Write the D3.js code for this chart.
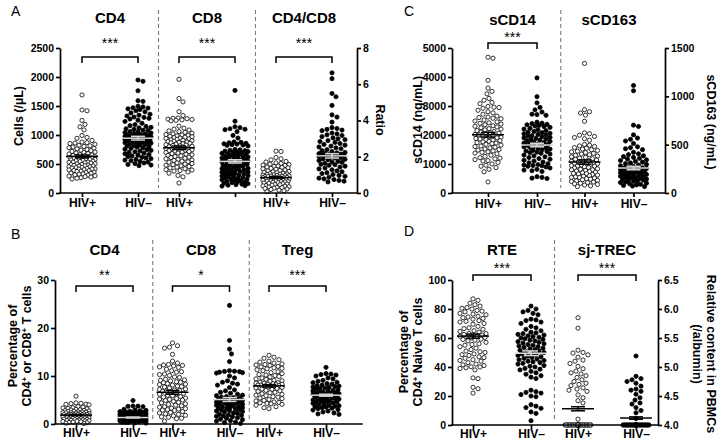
<!DOCTYPE html>
<html><head><meta charset="utf-8">
<script src="https://cdn.jsdelivr.net/npm/d3@7"></script>
<style>body{margin:0;background:#fff}svg{display:block;font-family:"Liberation Sans",Arial,Helvetica,sans-serif}</style>
</head><body>
<svg id="chart" width="720" height="442"></svg>
<script>
// ---------------- DATA ----------------
const groupNames = ["HIV+", "HIV–"];

// Panel A
const aTitles = ["CD4", "CD8", "CD4/CD8"];
const aStars = ["***", "***", "***"];
const aCatLabels = ["HIV+", "HIV–", "HIV+", "", "HIV+", "HIV–"];
const aLeftTicks = [0, 500, 1000, 1500, 2000, 2500];
const aRightTicks = [0, 2, 4, 6, 8];
const aCD4Pos = [1690,1432,1418,1252,1183,1141,1088,992,957,943,906,879,868,861,853,840,823,814,802,792,781,771,761,749,738,729,716,707,698,689,680,673,662,656,645,641,632,625,616,612,602,598,589,584,576,570,561,557,548,542,533,528,520,515,506,502,493,489,480,476,467,463,454,450,441,437,429,424,415,411,402,397,389,384,376,370,360,354,344,339,330,324,314,308,297,292,282,275,264,254,241,611,577,532,469,413];
const aCD4Neg = [1948,1926,1763,1591,1579,1496,1484,1470,1464,1451,1439,1418,1399,1380,1358,1341,1328,1310,1303,1287,1275,1255,1233,1202,1179,1161,1148,1132,1122,1108,1098,1083,1074,1060,1053,1042,1034,1023,1017,1006,1000,990,984,975,969,960,954,945,940,930,924,914,908,898,892,882,876,866,860,850,844,833,827,817,810,798,790,778,770,756,747,734,724,710,700,686,677,663,653,639,629,615,605,591,581,567,557,543,533,518,507,492,482,471,962,931,901,869,1003];
const aCD8Pos = [1960,1628,1571,1402,1336,1293,1287,1281,1274,1268,1261,1253,1244,1152,1118,1101,1086,1072,1058,1046,1031,1019,1008,1001,993,984,977,969,962,954,947,941,933,926,917,909,903,894,887,879,873,864,857,849,843,834,827,819,812,806,797,791,782,774,767,759,753,744,737,729,722,714,706,698,689,679,668,659,649,641,629,619,611,599,589,579,568,561,549,538,531,519,508,499,489,478,468,457,446,433,418,402,396,386,377,362,341,302,279,172];
const aCD8Neg = [1768,1238,1142,1127,1108,1099,1091,1058,992,948,881,873,866,857,849,843,834,827,821,811,752,746,737,731,723,714,707,699,693,684,677,668,661,651,643,637,627,619,613,603,597,589,579,571,563,557,547,539,531,523,517,507,499,493,483,477,467,461,451,443,437,427,419,411,403,397,387,381,371,363,357,347,339,331,323,317,307,299,291,283,277,267,259,251,243,237,227,219,211,203,197,187,179,169,161,152,143,135,126,119];
const aRatioPos = [2.31,2.29,1.96,1.89,1.83,1.74,1.71,1.66,1.63,1.59,1.57,1.54,1.52,1.49,1.47,1.43,1.41,1.39,1.36,1.33,1.31,1.27,1.24,1.22,1.19,1.17,1.14,1.12,1.09,1.07,1.05,1.03,1.01,0.99,0.97,0.95,0.93,0.92,0.9,0.88,0.87,0.85,0.83,0.82,0.8,0.79,0.77,0.75,0.73,0.72,0.7,0.68,0.67,0.65,0.63,0.61,0.59,0.57,0.55,0.53,0.51,0.49,0.47,0.45,0.43,0.41,0.39,0.37,0.35,0.33,0.31,0.29,0.27,0.25,0.22,0.19,0.16,0.12,0.07,0.91,0.86,0.78,0.74,0.69,0.96,1.02,0.62];
const aRatioNeg = [6.63,6.31,5.49,5.31,4.83,4.31,4.19,3.91,3.61,3.56,3.51,3.47,3.44,3.31,3.26,3.21,3.17,3.11,3.04,2.99,2.94,2.89,2.84,2.79,2.73,2.68,2.64,2.59,2.54,2.49,2.44,2.39,2.34,2.29,2.24,2.21,2.17,2.14,2.11,2.09,2.06,2.03,2.01,1.97,1.93,1.88,1.84,1.79,1.74,1.69,1.64,1.58,1.53,1.48,1.43,1.38,1.33,1.28,1.22,1.17,1.12,1.07,1.02,0.97,0.92,0.87,0.82,0.78,0.74,0.69,0.65,0.61,2.19,2.12,2.04,1.95,1.86,1.71,1.56];
const aMeans = [630, 945, 780, 545, 0.85, 2.05];
const aSems = [25, 32, 30, 28, 0.05, 0.12];

// Panel B
const bTitles = ["CD4", "CD8", "Treg"];
const bStars = ["**", "*", "***"];
const bCatLabels = ["HIV+", "HIV–", "HIV+", "HIV–", "HIV+", "HIV–"];
const bLeftTicks = [0, 10, 20, 30];
const bCD4Pos = [5.8,4.4,4.3,4.25,4.15,4.1,4.0,3.62,3.5,3.41,3.33,3.24,3.15,3.07,2.96,2.9,2.83,2.77,2.71,2.66,2.61,2.54,2.49,2.43,2.38,2.33,2.27,2.22,2.18,2.12,2.07,2.03,1.98,1.94,1.89,1.85,1.81,1.76,1.72,1.68,1.63,1.59,1.55,1.51,1.47,1.43,1.38,1.34,1.3,1.26,1.21,1.17,1.13,1.09,1.04,1.0,0.96,0.91,0.87,0.82,0.78,0.73,0.68,0.63,0.58,0.52,0.46,0.4,0.33,0.26,0.18,0.1,1.9,1.7,1.5,2.3,2.0];
const bCD4Neg = [4.9,3.75,3.72,3.68,3.6,3.05,2.93,2.82,2.74,2.66,2.58,2.51,2.44,2.37,2.3,2.24,2.17,2.11,2.05,1.98,1.92,1.86,1.8,1.75,1.69,1.64,1.58,1.53,1.48,1.43,1.38,1.33,1.29,1.24,1.2,1.15,1.11,1.07,1.03,0.99,0.95,0.91,0.87,0.83,0.79,0.75,0.71,0.67,0.63,0.59,0.55,0.51,0.46,0.41,0.36,0.31,0.25,0.19,1.4,1.25,1.1,1.0,1.5,0.9,0.7,1.2];
const bCD8Pos = [16.9,16.3,16.0,15.8,14.5,13.1,12.7,12.4,12.3,12.2,12.1,11.9,11.8,11.4,11.1,10.9,10.8,10.4,10.3,10.1,9.8,9.7,9.3,9.2,9.1,8.8,8.7,8.6,8.4,8.3,8.1,7.9,7.8,7.7,7.5,7.3,7.2,7.1,6.9,6.8,6.7,6.4,6.3,6.2,6.0,5.9,5.7,5.6,5.4,5.3,5.1,5.0,4.9,4.7,4.5,4.4,4.2,4.1,3.9,3.8,3.6,3.5,3.3,3.2,3.0,2.9,2.8,2.6,2.4,2.3,2.1,2.0,1.8,1.7,1.5,1.4,1.2,1.1,0.6,9.0,8.2,7.0,5.2,3.1];
const bCD8Neg = [24.7,17.4,15.6,14.6,13.0,11.1,11.0,10.95,10.9,10.8,10.7,10.6,10.0,9.6,9.0,8.7,8.5,8.3,8.1,7.6,7.1,6.9,6.6,6.4,6.2,6.0,5.9,5.7,5.6,5.5,5.3,5.2,5.1,5.0,4.9,4.8,4.7,4.6,4.5,4.4,4.3,4.2,4.1,4.0,3.9,3.8,3.7,3.5,3.4,3.3,3.1,3.0,2.9,2.7,2.6,2.5,2.3,2.2,2.0,1.9,1.8,1.6,1.5,1.3,1.2,1.0,0.9,0.7,0.6,0.4,0.3,0.1,4.4,3.6,2.8,5.4,4.8,3.2,1.7];
const bTregPos = [14.3,13.9,13.7,13.4,13.1,12.9,12.7,12.5,12.4,12.3,12.2,12.0,11.9,11.7,11.5,11.3,11.1,10.9,10.7,10.5,10.3,10.1,9.9,9.8,9.6,9.4,9.3,9.1,9.0,8.9,8.7,8.6,8.5,8.4,8.3,8.2,8.1,8.0,7.9,7.8,7.7,7.6,7.4,7.3,7.2,7.0,6.9,6.8,6.6,6.5,6.3,6.2,6.0,5.9,5.7,5.6,5.4,5.3,5.1,4.9,4.8,4.6,4.5,4.4,4.3,4.2,4.1,3.9,3.6,3.4,3.2,8.3,8.1,7.9,8.5,7.5,10.2,11.6];
const bTregNeg = [11.8,10.5,10.4,10.3,10.2,10.0,9.6,9.4,9.1,8.9,8.7,8.6,8.4,8.3,8.1,8.0,7.9,7.8,7.6,7.5,7.4,7.3,7.1,7.0,6.9,6.8,6.7,6.6,6.5,6.4,6.3,6.2,6.1,6.0,5.9,5.8,5.7,5.6,5.5,5.4,5.3,5.2,5.1,5.0,4.9,4.8,4.7,4.6,4.5,4.4,4.3,4.1,4.0,3.8,3.7,3.6,3.5,3.4,3.3,3.2,3.0,2.9,2.7,2.5,2.3,2.1,2.0,6.2,5.8,6.4,5.3,4.6,7.7,3.9];
const bMeans = [1.85, 1.35, 6.6, 5.1, 7.95, 6.0];
const bSems = [0.1, 0.09, 0.4, 0.4, 0.25, 0.2];

// Panel C
const cTitles = ["sCD14", "sCD163"];
const cStars = ["***", ""];
const cCatLabels = ["HIV+", "HIV–", "HIV+", "HIV–"];
const cLeftTicks = [0, 1000, 2000, 3000, 4000, 5000];
const cRightTicks = [0, 500, 1000, 1500];
const cCD14Pos = [4682,4648,3884,3617,3503,3421,3262,3198,3123,3081,2983,2958,2947,2921,2853,2801,2764,2718,2652,2619,2603,2578,2561,2517,2483,2452,2419,2402,2377,2353,2318,2302,2277,2253,2219,2203,2178,2152,2118,2102,2079,2061,2038,2021,2002,1978,1963,1938,1921,1902,1879,1862,1838,1821,1803,1778,1762,1738,1721,1703,1679,1651,1619,1602,1579,1553,1518,1503,1478,1452,1419,1402,1377,1352,1303,1262,1218,1203,1178,1152,1118,1102,1053,1002,958,923,878,818,732,381];
const cCD14Neg = [3968,3322,3108,2951,2868,2792,2718,2703,2679,2442,2408,2391,2369,2352,2328,2311,2288,2262,2229,2203,2178,2151,2122,2098,2081,2058,2042,2019,2003,1978,1962,1939,1921,1898,1882,1859,1841,1822,1799,1781,1758,1742,1719,1703,1688,1671,1648,1632,1609,1591,1568,1552,1529,1512,1488,1471,1448,1432,1409,1391,1368,1342,1309,1281,1248,1222,1188,1162,1128,1102,1068,1042,1008,982,962,948,938,921,898,862,818,792,768,741,562,538,512,498];
const cCD163Pos = [1340,862,841,828,806,742,622,614,598,585,574,561,546,502,494,487,481,470,463,455,448,440,432,425,418,410,403,396,390,382,375,369,361,355,348,341,335,328,322,315,309,302,296,290,283,277,270,264,258,251,245,239,233,227,221,215,209,203,197,191,185,179,173,167,161,155,149,143,137,131,125,119,113,107,101,95,89,82,74,66,320,300,280,240,200,160];
const cCD163Neg = [1112,1058,702,688,601,568,555,538,512,478,469,458,448,421,405,396,385,376,368,359,351,343,335,327,319,311,303,296,289,282,275,268,261,254,247,240,234,228,222,216,210,204,198,192,186,180,174,168,162,156,150,144,138,132,126,120,114,108,102,96,90,84,78,72,66,260,245,230,215,200,185,170,155,140];
const cMeans = [2010, 1655, 320, 258];
const cSems = [80, 60, 22, 18];

// Panel D
const dTitles = ["RTE", "sj-TREC"];
const dStars = ["***", "***"];
const dCatLabels = ["HIV+", "HIV–", "HIV+", "HIV–"];
const dLeftTicks = [0, 20, 40, 60, 80, 100];
const dRightTicks = [4.0, 4.5, 5.0, 5.5, 6.0, 6.5];
const dRTEPos = [87,86,84,83,82,81,80.5,80,79,78.5,78,77,76.5,76,75,74.5,74,73.5,73,72,71.5,71,70,69.5,68,67,66.5,66,65,64.5,64,63,62.5,62,61,60.5,60,59,58.5,58,57,56,55.5,55,54,53,52,51,50.5,50,49,48.5,48,47,46.5,46,45,44.5,44,43,42,41.5,41,40,40.2,39.5,39,38,32.5,32,26,25,22,61.2,62.3,60.4,63.1,59.2];
const dRTENeg = [82,80,79,78,77,76,73,72.5,72,71,70,68,67,66,65,64,63.5,63,62.5,62,61.5,61,60.5,60,59.5,59,58.5,58,57.5,57,56.5,56,55.5,55,54.5,54,53.5,53,52.5,52,51.5,51,50.5,50,49.5,49,48.5,48,47.5,47,46.5,46,45.5,45,44.5,44,43.5,43,42.5,42,41,40.5,40,39,38.5,38,37,36,35,34,33,32,24,23,22.5,22,21,20,19.5,14,13,12,11.5,9,8,3];
const dTRECPos = [5.85,5.67,5.29,5.25,5.24,5.21,5.17,5.12,5.1,5.06,5.01,4.97,4.93,4.9,4.88,4.85,4.82,4.78,4.75,4.72,4.7,4.68,4.64,4.62,4.6,4.58,4.52,4.47,4.42,4.38,4.1,4,4,4,4,4,4,4,4,4,4,4,4,4,4,4,4,4,4,4,4,4,4,4,4,4,4,4,4,4,4,4,4,4,4];
const dTRECNeg = [5.19,4.84,4.8,4.78,4.75,4.72,4.67,4.62,4.6,4.58,4.53,4.47,4.43,4.38,4.36,4.3,4.25,4.21,4.11,4,4,4,4,4,4,4,4,4,4,4,4,4,4,4,4,4,4,4,4,4,4,4,4,4,4,4,4,4,4,4,4,4,4,4,4,4,4,4,4,4,4,4,4,4,4,4,4];
const dMeans = [61.3, 49.5, 4.28, 4.12];
const dSems = [1.4, 1.6, 0.035, 0.02];

// ---------------- DRAWING ----------------
const svg = d3.select("#chart");
const FONT = "'Liberation Sans',Arial,sans-serif";
const R = 2.1, DIAM = 5.0, MAXHALF = 13;

function swarm(values, yScale, cx) {
  const pts = [];
  const items = values.map(v => ({v, y: yScale(v)})).sort((a, b) => a.y - b.y);
  for (const p of items) {
    let best = 0, bestScore = -1;
    for (let k = 0; k <= MAXHALF * 2; k++) {
      const off = k === 0 ? 0 : (k % 2 ? Math.ceil(k / 2) : -k / 2);
      let minD = Infinity;
      for (const q of pts) {
        const dy = p.y - q.y;
        if (Math.abs(dy) >= DIAM) continue;
        const dd = Math.hypot(cx + off - q.x, dy);
        if (dd < minD) minD = dd;
      }
      if (minD >= DIAM) { best = off; bestScore = Infinity; break; }
      if (minD > bestScore) { bestScore = minD; best = off; }
    }
    pts.push({x: cx + best, y: p.y});
  }
  return pts;
}

// rotated multi-line label; each line is its own <text>
function rotText(g, x, y, angle, lines, size, lineGap) {
  lines.forEach((ln, i) => {
    const t = g.append("text")
      .attr("transform", `translate(${x},${y}) rotate(${angle})`)
      .attr("y", i * lineGap)
      .attr("text-anchor", "middle").attr("font-weight", "bold").attr("font-size", size)
      .attr("font-family", FONT).attr("fill", "#000");
    ln.forEach(seg => {
      if (seg.sup) t.append("tspan").attr("baseline-shift", "super").attr("font-size", size * 0.62).text(seg.t);
      else t.append("tspan").text(seg.t);
    });
  });
}

function drawPanel(P) {
  const g = svg.append("g");
  const yL = d3.scaleLinear().domain(P.leftDomain).range([P.bottom, P.top]);
  const yR = P.rightDomain ? d3.scaleLinear().domain(P.rightDomain).range([P.bottom, P.top]) : null;
  const outer = d3.scalePoint().domain(P.titles).range(P.centerRange);
  const inner = d3.scalePoint().domain(groupNames).range([-P.off, P.off]);
  const keys = [], xs = [];
  P.titles.forEach(t => groupNames.forEach(n => { keys.push(t + "|" + n); xs.push(outer(t) + inner(n)); }));
  const xCat = d3.scaleOrdinal().domain(keys).range(xs);

  // panel letter
  g.append("text").attr("x", P.letter[1]).attr("y", P.letter[2]).attr("font-size", 14)
    .attr("font-family", FONT).text(P.letter[0]);

  // dashed separators
  const cs = P.titles.map(t => outer(t));
  for (let i = 0; i < cs.length - 1; i++) {
    const sx = (cs[i] + cs[i + 1]) / 2;
    g.append("line").attr("x1", sx).attr("x2", sx).attr("y1", P.sepY[0]).attr("y2", P.sepY[1])
      .attr("stroke", "#7a7a7a").attr("stroke-width", 1.1).attr("stroke-dasharray", "4,3");
  }

  // titles, stars, brackets
  P.titles.forEach((t, i) => {
    g.append("text").attr("x", outer(t)).attr("y", P.titleY).attr("text-anchor", "middle")
      .attr("font-family", FONT).attr("font-weight", "bold").attr("font-size", 15).text(t);
    if (P.stars[i]) {
      g.append("text").attr("x", outer(t)).attr("y", P.starsY).attr("text-anchor", "middle")
        .attr("font-family", FONT).attr("font-size", 14).attr("fill", "#000")
        .text(P.stars[i]);
      const x1 = xCat(t + "|" + groupNames[0]), x2 = xCat(t + "|" + groupNames[1]);
      g.append("path").attr("d", `M${x1},${P.bracketY + 6}V${P.bracketY}H${x2}V${P.bracketY + 6}`)
        .attr("fill", "none").attr("stroke", "#000").attr("stroke-width", 1.5);
    }
  });

  // points
  P.groups.forEach((gr, i) => {
    const ys = gr.axis === "R" ? yR : yL;
    const pts = swarm(gr.vals, ys, xs[i]);
    g.append("g").selectAll("circle").data(pts).join("circle")
      .attr("cx", d => d.x).attr("cy", d => d.y).attr("r", R)
      .attr("fill", gr.filled ? "#000" : "#fff").attr("stroke", "#000").attr("stroke-width", 0.8);
  });
  // mean ± SEM
  P.groups.forEach((gr, i) => {
    const ys = gr.axis === "R" ? yR : yL;
    const cx = xs[i];
    const my = ys(gr.mean), lo = ys(gr.mean - gr.sem), hi = ys(gr.mean + gr.sem);
    const mg = g.append("g").attr("stroke", gr.meanColor).attr("stroke-width", 1.5).attr("fill", "none");
    mg.append("line").attr("x1", cx - 16).attr("x2", cx + 16).attr("y1", my).attr("y2", my);
    mg.append("line").attr("x1", cx).attr("x2", cx).attr("y1", lo).attr("y2", hi);
    mg.append("line").attr("x1", cx - 7).attr("x2", cx + 7).attr("y1", lo).attr("y2", lo);
    mg.append("line").attr("x1", cx - 7).attr("x2", cx + 7).attr("y1", hi).attr("y2", hi);
  });

  // axes
  const styleAxis = sel => {
    sel.selectAll("path,line").attr("stroke", "#000").attr("stroke-width", 1.7);
    sel.selectAll("text").attr("font-weight", "bold").attr("font-size", 10.5).attr("fill", "#000")
      .attr("font-family", FONT);
  };
  g.append("g").attr("transform", `translate(${P.left},0)`)
    .call(d3.axisLeft(yL).tickValues(P.leftTicks).tickSize(4).tickSizeOuter(0).tickPadding(2).tickFormat(d3.format("d")))
    .call(styleAxis);
  if (yR) {
    g.append("g").attr("transform", `translate(${P.right},0)`)
      .call(d3.axisRight(yR).tickValues(P.rightTicks).tickSize(4).tickSizeOuter(0).tickPadding(2).tickFormat(P.rightFmt))
      .call(styleAxis);
  }
  const xa = g.append("g").attr("transform", `translate(0,${P.bottom})`)
    .call(d3.axisBottom(xCat).tickSize(4).tickPadding(3).tickFormat((d, i) => P.catLabels[i]))
    .call(styleAxis);
  xa.select(".domain").remove();
  xa.selectAll("text").attr("font-size", 12).attr("dy", null).attr("y", P.catLabelY - P.bottom);
  g.append("line").attr("x1", P.left - 0.85).attr("x2", P.right + 0.85).attr("y1", P.bottom).attr("y2", P.bottom)
    .attr("stroke", "#000").attr("stroke-width", 1.7);

  // axis titles
  P.axisTitles.forEach(a => rotText(g, a.x, a.y, a.angle, a.lines, a.size || 12.5, 14));
}

const lightMean = "#d8d8d8";
function grp(vals, axis, filled, mean, sem, meanColor) {
  return {vals, axis, filled, mean, sem, meanColor: meanColor || (filled ? lightMean : "#000")};
}

drawPanel({
  letter: ["A", 11, 16], titles: aTitles, stars: aStars, catLabels: aCatLabels,
  left: 60, right: 357, top: 48, bottom: 193, centerRange: [110, 304], off: 28,
  leftDomain: [0, 2500], rightDomain: [0, 8], leftTicks: aLeftTicks, rightTicks: aRightTicks, rightFmt: d3.format("d"),
  sepY: [10, 188], titleY: 23, starsY: 48, bracketY: 57, catLabelY: 207,
  groups: [
    grp(aCD4Pos, "L", false, aMeans[0], aSems[0]), grp(aCD4Neg, "L", true, aMeans[1], aSems[1]),
    grp(aCD8Pos, "L", false, aMeans[2], aSems[2]), grp(aCD8Neg, "L", true, aMeans[3], aSems[3]),
    grp(aRatioPos, "R", false, aMeans[4], aSems[4]), grp(aRatioNeg, "R", true, aMeans[5], aSems[5])
  ],
  axisTitles: [
    {x: 23, y: 116, angle: -90, lines: [[{t: "Cells (/µL)"}]]},
    {x: 376, y: 120, angle: 90, lines: [[{t: "Ratio"}]]}
  ]
});

drawPanel({
  letter: ["B", 11, 239], titles: bTitles, stars: bStars, catLabels: bCatLabels,
  left: 55, right: 362, top: 280, bottom: 424, centerRange: [104.5, 297.5], off: 28.5,
  leftDomain: [0, 30], rightDomain: null, leftTicks: bLeftTicks,
  sepY: [240, 420], titleY: 255, starsY: 280, bracketY: 286, catLabelY: 437,
  groups: [
    grp(bCD4Pos, "L", false, bMeans[0], bSems[0]), grp(bCD4Neg, "L", true, bMeans[1], bSems[1]),
    grp(bCD8Pos, "L", false, bMeans[2], bSems[2]), grp(bCD8Neg, "L", true, bMeans[3], bSems[3]),
    grp(bTregPos, "L", false, bMeans[4], bSems[4]), grp(bTregNeg, "L", true, bMeans[5], bSems[5])
  ],
  axisTitles: [
    {x: 17, y: 346, angle: -90, lines: [[{t: "Percentage of"}],
      [{t: "CD4"}, {t: "+", sup: true}, {t: " or CD8"}, {t: "+", sup: true}, {t: " T cells"}]]}
  ]
});

drawPanel({
  letter: ["C", 404, 16], titles: cTitles, stars: cStars, catLabels: cCatLabels,
  left: 452, right: 665, top: 48, bottom: 193, centerRange: [512.5, 609], off: 24.5,
  leftDomain: [0, 5000], rightDomain: [0, 1500], leftTicks: cLeftTicks, rightTicks: cRightTicks, rightFmt: d3.format("d"),
  sepY: [10, 188], titleY: 25, starsY: 42, bracketY: 43, catLabelY: 208,
  groups: [
    grp(cCD14Pos, "L", false, cMeans[0], cSems[0]), grp(cCD14Neg, "L", true, cMeans[1], cSems[1]),
    grp(cCD163Pos, "R", false, cMeans[2], cSems[2]), grp(cCD163Neg, "R", true, cMeans[3], cSems[3])
  ],
  axisTitles: [
    {x: 422, y: 120, angle: -90, lines: [[{t: "sCD14 (ng/mL)"}]]},
    {x: 707, y: 122, angle: 90, lines: [[{t: "sCD163 (ng/mL)"}]]}
  ]
});

drawPanel({
  letter: ["D", 404, 236], titles: dTitles, stars: dStars, catLabels: dCatLabels,
  left: 452, right: 658, top: 280, bottom: 425, centerRange: [502, 607], off: 29,
  leftDomain: [0, 100], rightDomain: [4.0, 6.5], leftTicks: dLeftTicks, rightTicks: dRightTicks, rightFmt: d3.format(".1f"),
  sepY: [240, 420], titleY: 255, starsY: 273, bracketY: 275, catLabelY: 438,
  groups: [
    grp(dRTEPos, "L", false, dMeans[0], dSems[0]), grp(dRTENeg, "L", true, dMeans[1], dSems[1]),
    grp(dTRECPos, "R", false, dMeans[2], dSems[2]), grp(dTRECNeg, "R", true, dMeans[3], dSems[3], "#000")
  ],
  axisTitles: [
    {x: 408, y: 352, angle: -90, lines: [[{t: "Percentage of"}],
      [{t: "CD4"}, {t: "+", sup: true}, {t: " Naive T cells"}]]},
    {x: 707, y: 354, angle: 90, lines: [[{t: "Relative content in PBMCs"}], [{t: "(/albumin)"}]]}
  ]
});
</script>
</body></html>
